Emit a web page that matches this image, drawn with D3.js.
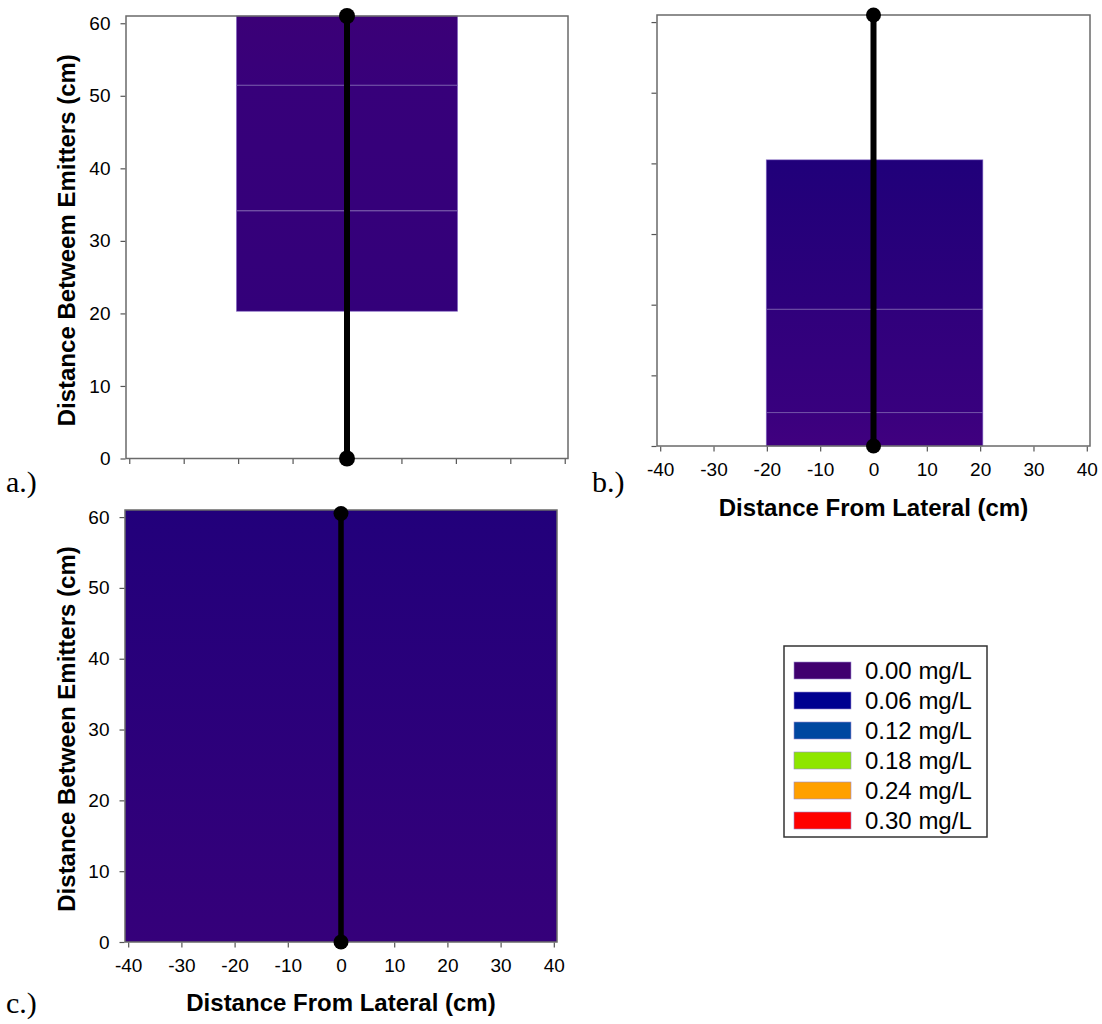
<!DOCTYPE html>
<meta charset="utf-8">
<style>
  body { margin: 0; background: #fff; }
  svg { display: block; }
  .tick text { font-family: "Liberation Sans", Arial, sans-serif; font-size: 19px; fill: #000; }
  .tick line { stroke: #555; stroke-width: 1.2; }
  .title { font-family: "Liberation Sans", Arial, sans-serif; font-size: 24px; font-weight: bold; }
  .tag { font-family: "Liberation Serif", "Times New Roman", serif; font-size: 30px; }
  .leg { font-family: "Liberation Sans", Arial, sans-serif; font-size: 24px; }
</style>
<svg width="1102" height="1024"></svg>
<script src="https://cdnjs.cloudflare.com/ajax/libs/d3/7.8.5/d3.min.js"></script>
<script>

// tick values
var xTicks = [-40, -30, -20, -10, 0, 10, 20, 30, 40];
var yTicks = [0, 10, 20, 30, 40, 50, 60];

// concentration bands (cm), one list per panel
var bandsA = [
  { x0: -20.3, x1: 20.3, y0: 51.5, y1: 61 },
  { x0: -20.3, x1: 20.3, y0: 34.2, y1: 51.5 },
  { x0: -20.3, x1: 20.3, y0: 20.3, y1: 34.2 }
];
var bandsB = [
  { x0: -20.1, x1: 20.5, y0: 19.4, y1: 40.5 },
  { x0: -20.1, x1: 20.5, y0: 4.8, y1: 19.4 },
  { x0: -20.1, x1: 20.5, y0: 0, y1: 4.8 }
];
var bandsC = [
  { x0: -40.6, x1: 40.6, y0: 0, y1: 61 }
];

// lateral line end points (cm)
var lateralA = [{ x: 0, y: 0 }, { x: 0, y: 61 }];
var lateralB = [{ x: 0, y: 0 }, { x: 0, y: 61 }];
var lateralC = [{ x: 0, y: 0 }, { x: 0, y: 60.5 }];

// legend
var legendLabels = ["0.00 mg/L", "0.06 mg/L", "0.12 mg/L", "0.18 mg/L", "0.24 mg/L", "0.30 mg/L"];
var legendColors = ["#40006f", "#000090", "#0047a0", "#8ee600", "#ffa000", "#ff0000"];

var svg = d3.select("svg");
var defs = svg.append("defs");

function grad(id, top, bottom) {
  var g = defs.append("linearGradient").attr("id", id)
      .attr("x1", 0).attr("y1", 0).attr("x2", 0).attr("y2", 1);
  g.append("stop").attr("offset", "0%").attr("stop-color", top);
  g.append("stop").attr("offset", "100%").attr("stop-color", bottom);
  return "url(#" + id + ")";
}

var panels = [
  { left: 126, right: 568, top: 16, bottom: 458.5, bands: bandsA, lateral: lateralA,
    fills: [grad("a0", "#3b0077", "#38007a"), grad("a1", "#37007a", "#35007a"), grad("a2", "#35007a", "#33007a")],
    xLabels: false, yLabels: true, yTitle: "Distance Betweem Emitters (cm)", r: 8, lw: 6,
    tag: "a.)", tagX: 6, tagY: 492 },
  { left: 657, right: 1090, top: 15, bottom: 446, bands: bandsB, lateral: lateralB,
    fills: [grad("b0", "#20007a", "#2d007b"), grad("b1", "#30007c", "#38007e"), grad("b2", "#3a007e", "#40007f")],
    xLabels: true, yLabels: false, xTitle: "Distance From Lateral (cm)", xPad: 11, xTitleY: 516, r: 7.5, lw: 6,
    tag: "b.)", tagX: 592, tagY: 492 },
  { left: 125, right: 557, top: 510, bottom: 942, bands: bandsC, lateral: lateralC,
    fills: [grad("c0", "#22007b", "#35007a")],
    xLabels: true, yLabels: true, xTitle: "Distance From Lateral (cm)", xPad: 11, xTitleY: 1011,
    yTitle: "Distance Between Emitters (cm)", r: 7.5, lw: 5.5,
    tag: "c.)", tagX: 6, tagY: 1013 }
];

panels.forEach(function(p) {
  var x = d3.scaleLinear().domain([-40.6, 40.6]).range([p.left, p.right]);
  var y = d3.scaleLinear().domain([0, 61]).range([p.bottom, p.top]);
  var g = svg.append("g");

  g.selectAll("rect.band")
      .data(p.bands)
    .enter().append("rect")
      .attr("class", "band")
      .attr("x", function(d) { return x(d.x0); })
      .attr("y", function(d) { return y(d.y1); })
      .attr("width", function(d) { return x(d.x1) - x(d.x0); })
      .attr("height", function(d) { return y(d.y0) - y(d.y1); })
      .attr("fill", function(d, i) { return p.fills[i]; });

  // faint contour edges between bands
  if (p.bands.length > 1) {
    g.selectAll("line.edge")
        .data(p.bands.slice(1))
      .enter().append("line")
        .attr("x1", function(d) { return x(d.x0); })
        .attr("x2", function(d) { return x(d.x1); })
        .attr("y1", function(d) { return y(d.y1) + 0.5; })
        .attr("y2", function(d) { return y(d.y1) + 0.5; })
        .attr("stroke", "#7d63b0").attr("stroke-width", 1).attr("opacity", 0.8);
    var b0 = p.bands[0], bl = p.bands[p.bands.length - 1];
    g.append("rect")
        .attr("x", x(b0.x0)).attr("y", y(b0.y1))
        .attr("width", x(b0.x1) - x(b0.x0)).attr("height", y(bl.y0) - y(b0.y1))
        .attr("fill", "none").attr("stroke", "#7a5cc0").attr("stroke-width", 0.8).attr("opacity", 0.7);
  }

  var xAxis = d3.axisBottom(x).tickValues(xTicks).tickSize(5).tickSizeOuter(0).tickPadding(p.xPad || 6)
      .tickFormat(function(d) { return p.xLabels ? String(d) : ""; });
  var ga = g.append("g").attr("transform", "translate(0," + (p.bottom + 0.5) + ")").call(xAxis);
  ga.select(".domain").remove();

  var yAxis = d3.axisLeft(y).tickValues(yTicks).tickSize(5).tickSizeOuter(0).tickPadding(10)
      .tickFormat(function(d) { return p.yLabels ? String(d) : ""; });
  var gy = g.append("g").attr("transform", "translate(" + (p.left - 0.5) + ",0)").call(yAxis);
  gy.select(".domain").remove();

  // frame
  g.append("rect")
      .attr("x", p.left).attr("y", p.top)
      .attr("width", p.right - p.left).attr("height", p.bottom - p.top)
      .attr("fill", "none").attr("stroke", "#6a6a6a").attr("stroke-width", 1.5);

  // lateral line with emitters
  g.append("path")
      .datum(p.lateral)
      .attr("d", d3.line().x(function(d) { return x(d.x); }).y(function(d) { return y(d.y); }))
      .attr("stroke", "#000").attr("stroke-width", p.lw).attr("fill", "none");
  g.selectAll("circle")
      .data(p.lateral)
    .enter().append("circle")
      .attr("cx", function(d) { return x(d.x); })
      .attr("cy", function(d) { return y(d.y); })
      .attr("r", p.r).attr("fill", "#000");

  if (p.xTitle) {
    g.append("text").attr("class", "title")
        .attr("x", (p.left + p.right) / 2).attr("y", p.xTitleY)
        .attr("text-anchor", "middle").text(p.xTitle);
  }
  if (p.yTitle) {
    g.append("text").attr("class", "title")
        .attr("transform", "translate(75," + ((p.top + p.bottom) / 2 + 3) + ") rotate(-90)")
        .attr("text-anchor", "middle").text(p.yTitle);
  }
  svg.append("text").attr("class", "tag").attr("x", p.tagX).attr("y", p.tagY).text(p.tag);
});

// legend
var legend = svg.append("g");
legend.append("rect")
    .attr("x", 784).attr("y", 646).attr("width", 203).attr("height", 191)
    .attr("fill", "#fff").attr("stroke", "#333").attr("stroke-width", 1.5);
var rows = legend.selectAll("g.row")
    .data(legendLabels)
  .enter().append("g")
    .attr("transform", function(d, i) { return "translate(794," + (662 + i * 30) + ")"; });
rows.append("rect")
    .attr("width", 57).attr("height", 17)
    .attr("fill", function(d, i) { return legendColors[i]; })
    .attr("stroke", "#9a8ad0").attr("stroke-width", 0.6);
rows.append("text").attr("class", "leg")
    .attr("x", 71).attr("y", 8.5).attr("dy", "0.36em")
    .text(function(d) { return d; });

</script>
